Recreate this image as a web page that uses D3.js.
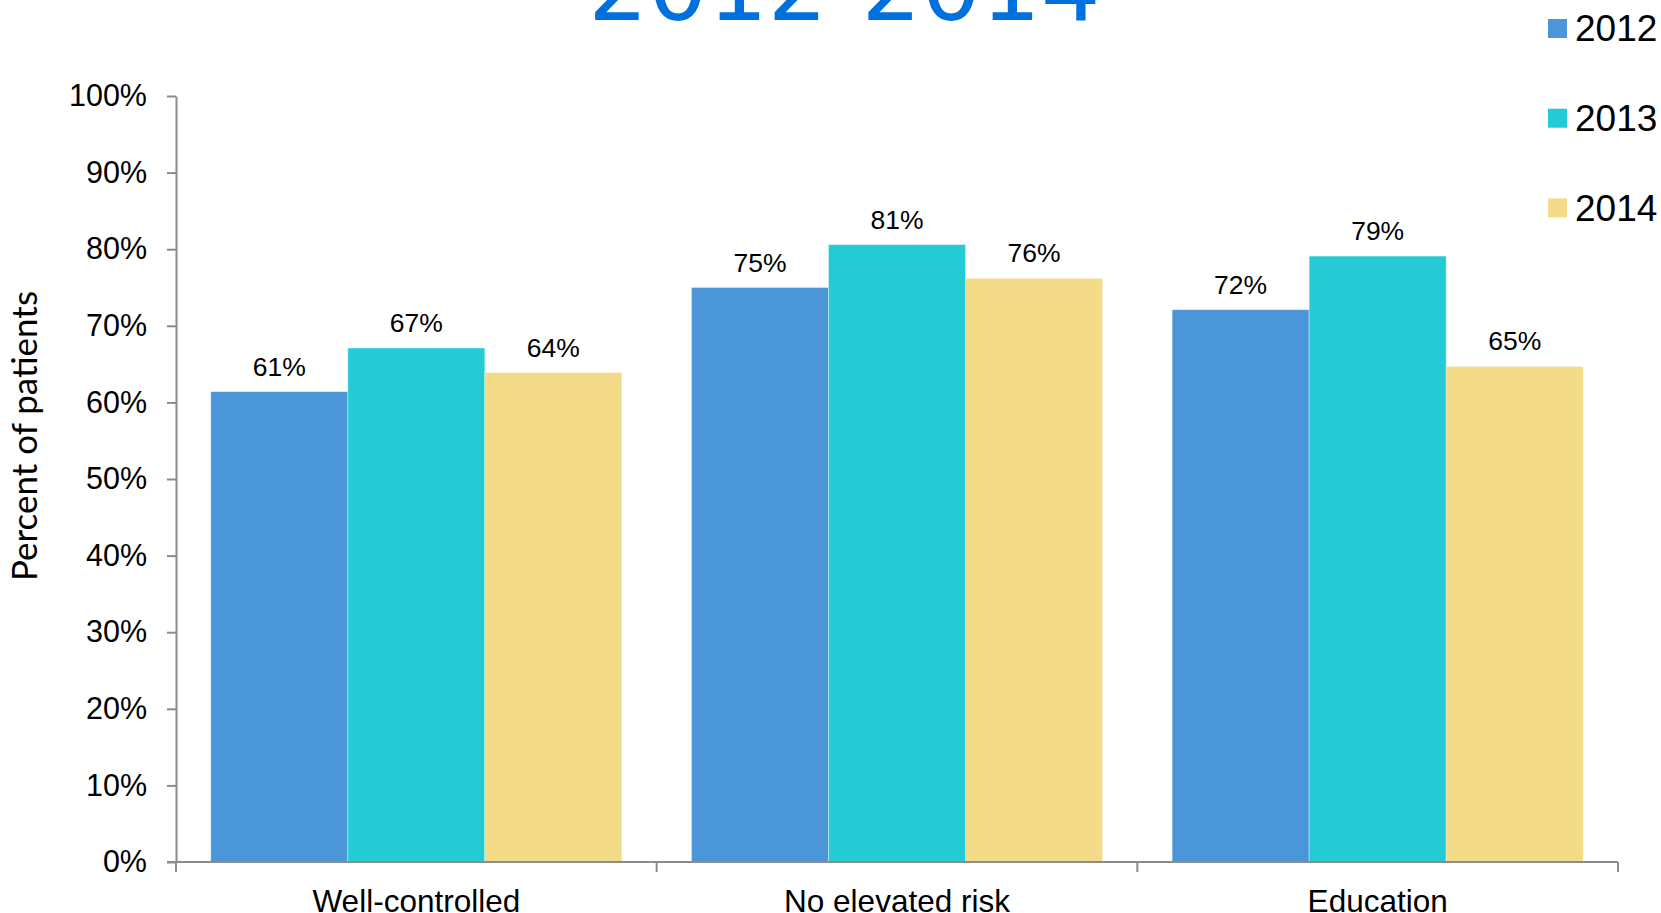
<!DOCTYPE html>
<html>
<head>
<meta charset="utf-8">
<script src="https://cdn.jsdelivr.net/npm/d3@7/dist/d3.min.js"></script>
<style>
  html, body { margin: 0; padding: 0; background: #ffffff; overflow: hidden; }
  svg { display: block; }
</style>
</head>
<body>
<svg id="chart" width="1661" height="913"></svg>
<script>
// ---- Data ----
const categories = ["Well-controlled", "No elevated risk", "Education"];
const years = ["2012", "2013", "2014"];
const values2012 = [0.614, 0.750, 0.721];
const values2013 = [0.671, 0.806, 0.791];
const values2014 = [0.639, 0.762, 0.647];
const yTicks = [0, 0.1, 0.2, 0.3, 0.4, 0.5, 0.6, 0.7, 0.8, 0.9, 1.0];
const titleText = "2012-2014";
const yAxisTitle = "Percent of patients";

const seriesValues = [values2012, values2013, values2014];
const colors = ["#4B95D9", "#25CBD4", "#F3DB87"];

// ---- Layout ----
const W = 1661, H = 913;
const plot = { left: 176, right: 1618, top: 96, bottom: 862 };
const svg = d3.select("#chart");

const y = d3.scaleLinear().domain([0, 1]).range([plot.bottom, plot.top]);
const x0 = d3.scaleBand().domain(categories).range([plot.left, plot.right]).paddingInner(0).paddingOuter(0);
const groupPad = 34.8;
const x1 = d3.scaleBand().domain(years).range([groupPad, x0.bandwidth() - groupPad]).padding(0);
const color = d3.scaleOrdinal().domain(years).range(colors);

const rows = [];
categories.forEach((c, ci) => {
  years.forEach((yr, yi) => rows.push({ cat: c, year: yr, value: seriesValues[yi][ci] }));
});

// Bars
svg.append("g").selectAll("rect").data(rows).join("rect")
  .attr("x", d => x0(d.cat) + x1(d.year))
  .attr("y", d => y(d.value))
  .attr("width", x1.bandwidth())
  .attr("height", d => y(0) - y(d.value))
  .attr("fill", d => color(d.year))
  .attr("stroke", "rgba(255,255,255,0.45)")
  .attr("stroke-width", 0.8);

// Value labels
svg.append("g").selectAll("text").data(rows).join("text")
  .attr("x", d => x0(d.cat) + x1(d.year) + x1.bandwidth() / 2)
  .attr("y", d => y(d.value) - 16)
  .attr("text-anchor", "middle")
  .attr("font-family", "Liberation Sans, Arial, sans-serif")
  .attr("font-size", 26.5)
  .attr("fill", "#000")
  .text(d => d3.format(".0%")(d.value));

// Y axis
const axisColor = "#8C8C8C";
const yAxis = svg.append("g")
  .attr("transform", `translate(${plot.left},0)`)
  .call(d3.axisLeft(y).tickValues(yTicks).tickFormat(d3.format(".0%")).tickSize(9).tickSizeOuter(0).tickPadding(20));
yAxis.select(".domain").attr("stroke", axisColor).attr("stroke-width", 2);
yAxis.selectAll(".tick line").attr("stroke", axisColor).attr("stroke-width", 2);
yAxis.selectAll(".tick text")
  .attr("font-family", "Liberation Sans, Arial, sans-serif")
  .attr("font-size", 30.5)
  .attr("fill", "#000");

// X axis
const xAxis = svg.append("g")
  .attr("transform", `translate(0,${plot.bottom})`)
  .call(d3.axisBottom(x0).tickSize(0).tickSizeOuter(0).tickPadding(28));
xAxis.select(".domain").attr("stroke", axisColor).attr("stroke-width", 2)
  .attr("d", `M${plot.left - 9},0H${plot.right}`);
xAxis.selectAll(".tick text")
  .attr("font-family", "Liberation Sans, Arial, sans-serif")
  .attr("font-size", 31.5)
  .attr("fill", "#000");
const boundaries = categories.map(c => x0(c)).concat([x0.range()[1]]);
xAxis.append("g").selectAll("line").data(boundaries).join("line")
  .attr("x1", d => d).attr("x2", d => d)
  .attr("y1", 0).attr("y2", 10)
  .attr("stroke", axisColor).attr("stroke-width", 2);

// Y axis title
svg.append("text")
  .attr("transform", `translate(37,436) rotate(-90)`)
  .attr("text-anchor", "middle")
  .attr("font-family", "Lato, 'Open Sans', sans-serif")
  .attr("font-size", 35)
  .attr("fill", "#000")
  .text(yAxisTitle);

// Title (partially cut off at top)
svg.append("text")
  .attr("x", 844.5)
  .attr("y", 19.5)
  .attr("text-anchor", "middle")
  .attr("font-family", "DejaVu Sans, sans-serif")
  .attr("font-size", 94)
  .attr("fill", "#0070DF")
  .text(titleText);

// Legend
const legend = svg.append("g");
years.forEach((yr, i) => {
  const gy = 19 + i * 89.7;
  legend.append("rect")
    .attr("x", 1548).attr("y", gy).attr("width", 19).attr("height", 19)
    .attr("fill", color(yr));
  legend.append("text")
    .attr("x", 1575).attr("y", gy + 9.5).attr("dy", "0.35em")
    .attr("font-family", "Liberation Sans, Arial, sans-serif")
    .attr("font-size", 37)
    .attr("fill", "#000")
    .text(yr);
});
</script>
</body>
</html>
